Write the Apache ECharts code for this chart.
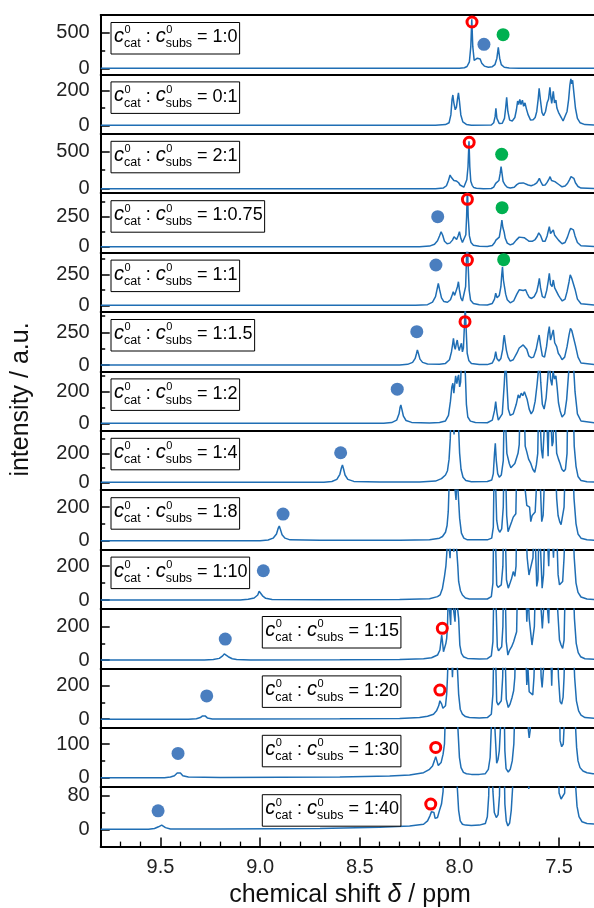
<!DOCTYPE html>
<html><head><meta charset="utf-8">
<script src="https://cdn.jsdelivr.net/npm/echarts@6/dist/echarts.min.js"></script>
<style>html,body{margin:0;padding:0;background:#fff}#c{width:594px;height:908px}</style>
</head><body><div id="c"></div>
<script>
// ---------------- data ----------------
const ratios = ['1:0','0:1','2:1','1:0.75','1:1','1:1.5','1:2','1:4','1:8','1:10','1:15','1:20','1:30','1:40'];
const yTopLabel = [500,200,500,250,250,250,200,200,200,200,200,200,100,80];
const yMinorTicks = [[250],[100],[250],[125,375],[125,375],[125,375],[100,300],[100,300],[100],[100],[100],[100],[50],[40]];
const yLow  = [-85,-49,-61,-49,-54,-49,-47,-55,-53,-53,-50,-51,-28,-41];
const yHigh = [740,294,742,446,425,405,328,356,300,298,306,303,148,100];
const xTickLabels = [7.5, 8.0, 8.5, 9.0, 9.5];
const xMinorTicks = [7.4,7.6,7.7,7.8,7.9,8.1,8.2,8.3,8.4,8.6,8.7,8.8,8.9,9.1,9.2,9.3,9.4,9.6,9.7];

const spec1 = [[9.80,0],[8.10,0],[8.00,2],[7.975,8],[7.962,25],[7.950,90],[7.943,300],[7.938,680],[7.933,300],[7.926,110],[7.918,100],[7.910,140],[7.903,162],[7.896,130],[7.888,70],[7.875,30],[7.855,15],[7.835,22],[7.822,50],[7.812,140],[7.805,290],[7.798,140],[7.790,50],[7.775,15],[7.75,4],[7.70,0],[7.30,0]];
const spec2 = [[9.80,0],[8.12,0],[8.07,4],[8.052,15],[8.043,60],[8.037,150],[8.033,175],[8.028,130],[8.021,90],[8.015,105],[8.010,150],[8.005,188],[8.000,140],[7.993,60],[7.983,20],[7.965,5],[7.94,0],[7.84,2],[7.828,15],[7.821,50],[7.817,98],[7.812,40],[7.800,10],[7.785,12],[7.774,40],[7.768,100],[7.763,162],[7.757,80],[7.748,30],[7.735,25],[7.722,45],[7.714,90],[7.708,140],[7.703,120],[7.697,150],[7.691,120],[7.684,145],[7.678,110],[7.671,130],[7.664,95],[7.655,60],[7.643,30],[7.630,32],[7.620,45],[7.612,80],[7.605,150],[7.600,214],[7.594,150],[7.586,75],[7.578,55],[7.568,80],[7.560,130],[7.553,150],[7.546,219],[7.541,160],[7.537,127],[7.532,170],[7.529,196],[7.523,130],[7.516,145],[7.511,100],[7.503,75],[7.496,80],[7.489,45],[7.480,25],[7.470,35],[7.460,80],[7.452,150],[7.446,230],[7.441,268],[7.436,240],[7.432,260],[7.426,190],[7.418,100],[7.408,40],[7.395,15],[7.37,4],[7.30,0]];
const spec3 = [[9.80,0],[8.12,0],[8.08,10],[8.065,40],[8.055,110],[8.047,185],[8.040,150],[8.034,140],[8.028,110],[8.022,95],[8.016,105],[8.011,117],[8.004,80],[7.997,50],[7.989,27],[7.978,20],[7.970,40],[7.963,120],[7.957,297],[7.952,640],[7.948,297],[7.943,100],[7.936,45],[7.928,15],[7.915,5],[7.88,0],[7.84,3],[7.828,20],[7.818,72],[7.810,60],[7.802,110],[7.796,200],[7.791,297],[7.786,200],[7.781,100],[7.777,95],[7.771,50],[7.760,20],[7.745,10],[7.725,20],[7.712,55],[7.700,75],[7.690,80],[7.680,78],[7.670,70],[7.655,50],[7.640,40],[7.625,55],[7.612,80],[7.605,110],[7.599,140],[7.592,95],[7.582,45],[7.570,50],[7.560,85],[7.551,130],[7.545,162],[7.538,110],[7.529,117],[7.521,95],[7.512,100],[7.503,60],[7.495,40],[7.485,25],[7.470,35],[7.458,70],[7.448,120],[7.440,162],[7.433,150],[7.426,140],[7.418,80],[7.405,30],[7.39,8],[7.30,0]];
const spec4 = [[9.80,0],[8.20,0],[8.15,5],[8.125,20],[8.110,50],[8.100,90],[8.092,125],[8.084,95],[8.075,45],[8.062,25],[8.048,30],[8.035,55],[8.027,83],[8.020,70],[8.014,60],[8.007,90],[8.000,125],[7.993,70],[7.985,35],[7.975,40],[7.968,100],[7.964,250],[7.960,520],[7.956,250],[7.950,90],[7.942,35],[7.930,12],[7.90,4],[7.86,2],[7.835,10],[7.823,35],[7.817,55],[7.810,40],[7.800,80],[7.792,160],[7.787,222],[7.782,160],[7.776,125],[7.770,70],[7.760,30],[7.745,15],[7.730,25],[7.715,55],[7.700,80],[7.690,83],[7.675,75],[7.662,60],[7.650,45],[7.635,45],[7.620,60],[7.610,85],[7.602,115],[7.598,125],[7.592,90],[7.582,45],[7.570,45],[7.560,90],[7.553,140],[7.549,167],[7.543,110],[7.536,100],[7.529,139],[7.522,95],[7.512,90],[7.503,55],[7.495,45],[7.485,25],[7.470,35],[7.458,80],[7.448,130],[7.442,153],[7.436,145],[7.428,140],[7.420,90],[7.408,35],[7.39,8],[7.30,0]];
const spec5 = [[9.80,0],[8.22,0],[8.16,5],[8.135,25],[8.120,70],[8.112,130],[8.106,177],[8.100,130],[8.090,60],[8.078,30],[8.060,25],[8.045,45],[8.035,90],[8.031,110],[8.024,80],[8.018,95],[8.010,150],[8.005,190],[8.000,124],[7.993,60],[7.985,35],[7.976,50],[7.969,150],[7.965,350],[7.961,600],[7.957,350],[7.951,120],[7.944,40],[7.930,15],[7.90,4],[7.86,3],[7.835,15],[7.824,50],[7.818,97],[7.811,60],[7.800,80],[7.792,150],[7.788,240],[7.784,311],[7.779,200],[7.774,150],[7.768,90],[7.760,45],[7.745,20],[7.728,35],[7.712,90],[7.700,125],[7.690,129],[7.680,120],[7.668,125],[7.660,95],[7.650,65],[7.638,55],[7.625,70],[7.612,110],[7.604,170],[7.599,218],[7.593,140],[7.584,70],[7.572,60],[7.562,120],[7.554,200],[7.549,258],[7.543,170],[7.535,150],[7.529,204],[7.522,140],[7.513,130],[7.503,80],[7.495,60],[7.484,35],[7.470,50],[7.460,110],[7.450,190],[7.444,245],[7.437,220],[7.430,210],[7.420,130],[7.408,50],[7.39,12],[7.30,0]];
const spec6 = [[9.80,0],[8.30,0],[8.26,5],[8.235,20],[8.222,50],[8.215,90],[8.211,115],[8.206,90],[8.198,45],[8.185,20],[8.16,8],[8.10,5],[8.07,12],[8.050,40],[8.040,100],[8.033,170],[8.030,204],[8.025,140],[8.021,120],[8.016,160],[8.011,191],[8.006,140],[8.001,110],[7.996,140],[7.990,166],[7.985,100],[7.980,130],[7.975,300],[7.971,450],[7.967,300],[7.961,90],[7.953,35],[7.940,12],[7.90,4],[7.86,3],[7.835,15],[7.824,50],[7.818,102],[7.812,50],[7.802,30],[7.792,50],[7.783,120],[7.778,200],[7.775,229],[7.770,170],[7.764,110],[7.756,60],[7.745,30],[7.730,40],[7.712,90],[7.700,130],[7.690,145],[7.680,153],[7.670,140],[7.662,120],[7.652,70],[7.640,55],[7.628,60],[7.615,120],[7.606,190],[7.600,229],[7.593,150],[7.584,70],[7.573,60],[7.563,140],[7.555,240],[7.549,293],[7.543,190],[7.536,200],[7.529,268],[7.522,170],[7.512,140],[7.504,90],[7.495,70],[7.485,40],[7.472,60],[7.460,140],[7.450,230],[7.443,280],[7.436,262],[7.428,250],[7.418,150],[7.405,60],[7.39,15],[7.30,0]];
const spec7 = [[9.80,0],[8.38,0],[8.34,5],[8.315,20],[8.303,60],[8.298,100],[8.294,116],[8.289,90],[8.281,45],[8.268,18],[8.24,6],[8.15,3],[8.10,5],[8.07,15],[8.055,50],[8.045,140],[8.038,230],[8.033,253],[8.028,190],[8.024,200],[8.019,300],[8.013,250],[8.008,290],[8.004,306],[7.999,230],[7.994,260],[7.990,400],[7.984,420],[7.979,400],[7.975,420],[7.970,300],[7.965,120],[7.958,40],[7.945,14],[7.92,5],[7.86,4],[7.835,20],[7.824,80],[7.818,137],[7.812,70],[7.805,20],[7.795,20],[7.785,60],[7.775,250],[7.768,420],[7.762,250],[7.755,90],[7.745,50],[7.730,60],[7.715,120],[7.705,180],[7.698,160],[7.690,190],[7.682,175],[7.674,200],[7.668,211],[7.660,150],[7.650,90],[7.640,60],[7.630,80],[7.620,140],[7.610,250],[7.604,330],[7.599,420],[7.592,260],[7.584,120],[7.575,90],[7.565,160],[7.556,300],[7.549,420],[7.543,280],[7.536,240],[7.530,330],[7.523,280],[7.516,300],[7.510,230],[7.503,130],[7.495,80],[7.485,40],[7.472,60],[7.462,150],[7.452,320],[7.444,420],[7.437,400],[7.430,420],[7.420,200],[7.408,60],[7.39,15],[7.30,0]];
const spec8 = [[9.80,0],[8.68,0],[8.64,5],[8.615,20],[8.600,55],[8.592,100],[8.587,119],[8.582,95],[8.574,50],[8.560,20],[8.53,6],[8.40,2],[8.20,2],[8.12,8],[8.09,25],[8.070,50],[8.060,80],[8.052,160],[8.046,300],[8.040,600],[8.032,600],[8.027,330],[8.022,600],[8.012,600],[8.005,400],[7.999,200],[7.992,90],[7.982,35],[7.968,12],[7.94,4],[7.86,5],[7.838,15],[7.830,60],[7.824,200],[7.820,269],[7.815,150],[7.808,60],[7.800,35],[7.790,50],[7.780,150],[7.774,600],[7.768,600],[7.762,200],[7.757,211],[7.750,130],[7.742,100],[7.732,110],[7.722,130],[7.713,134],[7.706,200],[7.700,260],[7.695,600],[7.676,600],[7.670,250],[7.662,210],[7.653,160],[7.642,130],[7.632,90],[7.622,69],[7.614,120],[7.607,200],[7.602,600],[7.594,600],[7.588,220],[7.582,165],[7.575,170],[7.566,600],[7.560,600],[7.555,180],[7.548,600],[7.543,600],[7.535,250],[7.530,280],[7.524,600],[7.518,600],[7.512,200],[7.503,160],[7.495,130],[7.486,90],[7.476,75],[7.468,90],[7.460,200],[7.456,600],[7.430,600],[7.424,250],[7.415,110],[7.405,40],[7.390,12],[7.36,4],[7.30,0]];
const spec9 = [[9.80,0],[9.00,0],[8.96,4],[8.935,15],[8.918,40],[8.909,75],[8.904,87],[8.899,70],[8.890,35],[8.875,15],[8.85,5],[8.70,2],[8.30,2],[8.15,5],[8.10,15],[8.085,25],[8.070,50],[8.062,90],[8.056,174],[8.050,400],[8.030,400],[8.020,400],[8.017,242],[8.012,400],[8.004,400],[7.999,134],[7.990,45],[7.978,15],[7.96,5],[7.86,5],[7.838,15],[7.830,80],[7.825,500],[7.820,400],[7.813,120],[7.806,70],[7.798,50],[7.788,70],[7.780,200],[7.776,500],[7.768,400],[7.763,150],[7.756,53],[7.748,80],[7.738,113],[7.730,140],[7.722,150],[7.717,160],[7.713,400],[7.700,500],[7.690,400],[7.680,500],[7.670,300],[7.662,210],[7.656,220],[7.648,200],[7.642,113],[7.635,150],[7.628,160],[7.620,170],[7.610,400],[7.600,500],[7.593,300],[7.587,113],[7.580,150],[7.572,400],[7.560,500],[7.550,400],[7.540,500],[7.528,400],[7.520,500],[7.512,250],[7.505,150],[7.497,113],[7.490,95],[7.482,100],[7.475,200],[7.468,500],[7.432,500],[7.425,250],[7.415,100],[7.405,40],[7.39,15],[7.36,5],[7.30,0]];
const spec10 = [[9.80,0],[9.10,0],[9.06,4],[9.030,12],[9.012,30],[9.005,52],[9.001,59],[8.996,50],[8.988,25],[8.972,10],[8.94,3],[8.70,2],[8.30,3],[8.15,8],[8.11,20],[8.097,30],[8.085,70],[8.075,140],[8.068,200],[8.064,266],[8.058,400],[8.050,400],[8.047,247],[8.042,400],[8.034,400],[8.028,286],[8.020,400],[8.012,400],[8.008,200],[8.004,110],[7.995,55],[7.985,30],[7.970,12],[7.95,6],[7.86,6],[7.840,20],[7.832,100],[7.827,500],[7.820,400],[7.813,89],[7.806,75],[7.800,70],[7.790,90],[7.782,200],[7.777,500],[7.770,400],[7.764,120],[7.755,70],[7.746,100],[7.738,128],[7.730,168],[7.722,140],[7.716,200],[7.712,500],[7.690,500],[7.680,400],[7.670,500],[7.660,250],[7.651,148],[7.645,180],[7.638,170],[7.631,250],[7.625,500],[7.618,300],[7.612,80],[7.606,120],[7.600,500],[7.593,300],[7.585,70],[7.578,150],[7.570,500],[7.560,400],[7.552,200],[7.545,500],[7.535,400],[7.528,250],[7.520,500],[7.512,400],[7.505,150],[7.498,90],[7.490,85],[7.482,110],[7.475,250],[7.468,500],[7.432,500],[7.424,250],[7.415,100],[7.405,45],[7.39,18],[7.36,6],[7.30,0]];
const spec11 = [[9.80,0],[9.28,0],[9.235,3],[9.205,10],[9.188,25],[9.180,37],[9.175,40],[9.170,36],[9.160,20],[9.140,8],[9.118,3],[9.05,1],[8.60,2],[8.30,4],[8.18,8],[8.14,14],[8.11,30],[8.098,60],[8.092,120],[8.089,150],[8.085,110],[8.080,50],[8.075,60],[8.068,100],[8.064,130],[8.060,200],[8.056,400],[8.048,400],[8.044,210],[8.040,400],[8.030,400],[8.022,230],[8.018,400],[8.010,400],[8.004,250],[7.998,90],[7.990,40],[7.980,20],[7.96,10],[7.90,6],[7.86,8],[7.840,25],[7.832,110],[7.826,500],[7.818,400],[7.810,80],[7.804,55],[7.796,50],[7.788,80],[7.782,200],[7.778,500],[7.770,400],[7.765,110],[7.757,30],[7.748,60],[7.738,80],[7.728,110],[7.718,150],[7.713,170],[7.708,500],[7.668,500],[7.662,230],[7.655,400],[7.650,250],[7.643,170],[7.636,90],[7.630,100],[7.624,200],[7.618,500],[7.596,500],[7.590,300],[7.584,190],[7.578,300],[7.572,500],[7.562,500],[7.552,220],[7.547,500],[7.533,500],[7.525,400],[7.517,500],[7.507,300],[7.498,120],[7.490,90],[7.482,70],[7.475,120],[7.468,500],[7.430,500],[7.423,250],[7.414,100],[7.404,45],[7.392,20],[7.37,8],[7.30,2]];
const spec12 = [[9.80,0],[9.36,0],[9.32,3],[9.300,10],[9.289,20],[9.282,26],[9.276,20],[9.265,8],[9.24,2],[9.10,1],[8.60,3],[8.30,5],[8.20,10],[8.16,18],[8.13,30],[8.115,50],[8.104,80],[8.098,110],[8.094,120],[8.089,90],[8.083,65],[8.077,55],[8.070,80],[8.064,150],[8.060,250],[8.056,400],[8.040,400],[8.035,250],[8.030,400],[8.016,400],[8.010,300],[8.004,150],[7.996,60],[7.985,30],[7.970,16],[7.95,10],[7.90,7],[7.86,10],[7.840,30],[7.832,150],[7.826,500],[7.819,400],[7.813,105],[7.806,85],[7.798,80],[7.790,110],[7.783,250],[7.779,500],[7.771,400],[7.765,120],[7.755,70],[7.746,90],[7.736,130],[7.728,170],[7.722,250],[7.718,500],[7.670,500],[7.662,204],[7.656,300],[7.650,164],[7.640,170],[7.632,145],[7.626,250],[7.620,500],[7.596,500],[7.590,250],[7.585,190],[7.578,300],[7.572,500],[7.544,500],[7.537,200],[7.530,500],[7.510,500],[7.503,250],[7.495,105],[7.487,90],[7.480,130],[7.475,250],[7.470,500],[7.430,500],[7.422,250],[7.413,110],[7.402,50],[7.390,25],[7.37,10],[7.30,3]];
const spec13 = [[9.80,0],[9.48,0],[9.45,2],[9.430,6],[9.416,14],[9.407,18],[9.400,14],[9.388,6],[9.36,2],[9.20,1],[8.60,2],[8.35,5],[8.25,8],[8.18,15],[8.150,25],[8.135,35],[8.126,50],[8.119,62],[8.113,50],[8.106,36],[8.101,33],[8.092,45],[8.082,70],[8.075,100],[8.070,200],[8.062,300],[8.014,300],[8.008,150],[8.000,60],[7.992,30],[7.980,16],[7.965,12],[7.94,10],[7.90,10],[7.87,12],[7.855,25],[7.846,60],[7.840,150],[7.835,300],[7.825,300],[7.818,100],[7.813,43],[7.806,55],[7.800,80],[7.794,150],[7.790,300],[7.778,300],[7.772,80],[7.766,27],[7.755,17],[7.745,25],[7.735,50],[7.727,100],[7.722,200],[7.718,300],[7.660,300],[7.654,140],[7.650,118],[7.645,140],[7.638,300],[7.585,300],[7.580,160],[7.575,300],[7.500,300],[7.495,110],[7.487,92],[7.479,100],[7.474,160],[7.470,300],[7.425,300],[7.420,180],[7.412,90],[7.405,50],[7.395,30],[7.380,20],[7.360,15],[7.33,12],[7.30,10]];
const spec14 = [[9.80,0],[9.56,0],[9.53,2],[9.510,6],[9.500,9],[9.494,10],[9.488,8],[9.475,4],[9.45,1],[9.20,1],[8.70,2],[8.40,5],[8.25,8],[8.18,12],[8.160,20],[8.148,32],[8.140,42],[8.134,46],[8.128,40],[8.122,26],[8.118,22],[8.110,28],[8.100,45],[8.090,60],[8.082,90],[8.077,200],[8.020,200],[8.012,110],[8.004,45],[7.996,20],[7.985,12],[7.970,10],[7.94,9],[7.90,10],[7.87,14],[7.860,30],[7.853,80],[7.849,200],[7.838,200],[7.832,90],[7.825,40],[7.815,28],[7.806,35],[7.799,80],[7.795,200],[7.777,200],[7.772,60],[7.765,20],[7.757,8],[7.748,15],[7.740,45],[7.733,100],[7.729,200],[7.660,200],[7.652,96],[7.646,94],[7.642,200],[7.505,200],[7.500,86],[7.490,72],[7.480,72],[7.472,86],[7.468,200],[7.424,200],[7.418,110],[7.410,55],[7.400,30],[7.385,18],[7.36,14],[7.30,12]];
const spectra = [spec1,spec2,spec3,spec4,spec5,spec6,spec7,spec8,spec9,spec10,spec11,spec12,spec13,spec14];

// markers: [panel index, ppm, intensity]
const blueDots = [[0,7.877,333],[3,8.109,250],[4,8.118,325],[5,8.214,255],[6,8.312,216],[7,8.596,204],[8,8.885,158],[9,8.984,173],[10,9.175,126],[11,9.268,139],[12,9.412,72],[13,9.512,44]];
const greenDots = [[0,7.781,467],[2,7.788,465],[3,7.786,325],[4,7.778,368]];
const redRings = [[0,7.937,643],[2,7.951,627],[3,7.960,395],[4,7.960,365],[5,7.972,331],[10,8.086,190],[11,8.098,174],[12,8.119,90],[13,8.144,60]];

// ---------------- layout ----------------
const FF = '"Liberation Sans", Arial, Helvetica, sans-serif';
const N = 14, TOP0 = 15, PH = 59.4, LEFT = 100.7, RIGHT_PX = 594, PXPPM = 199.3;
const XMAX = 9.8, XMIN = XMAX - (RIGHT_PX - LEFT) / PXPPM;
const LINE = '#1f6eb4';
const BLACK = '#000';

const grids = [], xAxes = [], yAxes = [], series = [];
for (let i = 0; i < N; i++) {
  const last = i === N - 1;
  grids.push({left: LEFT, top: TOP0 + PH * i, width: RIGHT_PX - LEFT - 0.01, height: PH, show: false});
  const xi = xAxes.length;
  xAxes.push({gridIndex: i, type: 'value', position: 'bottom', inverse: true, min: XMIN, max: XMAX,
    axisLine: {show: true, onZero: false, lineStyle: {color: BLACK, width: 2}}, splitLine: {show: false},
    axisTick: {show: last, inside: true, length: 9, lineStyle: {color: BLACK, width: 1.5}, customValues: xTickLabels},
    axisLabel: {show: last, fontSize: 20, fontFamily: FF, color: '#222', margin: 11, customValues: xTickLabels,
      formatter: v => v.toFixed(1)}
  });
  if (last) {
    xAxes.push({gridIndex: i, type: 'value', position: 'bottom', inverse: true, min: XMIN, max: XMAX,
      axisLine: {show: false, onZero: false}, splitLine: {show: false},
      axisTick: {show: true, inside: true, length: 5, lineStyle: {color: BLACK, width: 1.3}, customValues: xMinorTicks},
      axisLabel: {show: false}});
  }
  if (i === 0) {
    xAxes.push({gridIndex: i, type: 'value', position: 'top', inverse: true, min: XMIN, max: XMAX,
      axisLine: {show: true, onZero: false, lineStyle: {color: BLACK, width: 2}}, splitLine: {show: false},
      axisTick: {show: false}, axisLabel: {show: false}});
  }
  const yi = yAxes.length;
  yAxes.push({gridIndex: i, type: 'value', position: 'left', min: yLow[i], max: yHigh[i],
    axisLine: {show: true, onZero: false, lineStyle: {color: BLACK, width: 2}}, splitLine: {show: false},
    axisTick: {show: true, inside: true, length: 9, lineStyle: {color: BLACK, width: 1.5}, customValues: [0, yTopLabel[i]]},
    axisLabel: {show: true, fontSize: 20, fontFamily: FF, color: '#222', margin: 11, customValues: [0, yTopLabel[i]]}
  });
  yAxes.push({gridIndex: i, type: 'value', position: 'left', min: yLow[i], max: yHigh[i],
    axisLine: {show: false, onZero: false}, splitLine: {show: false},
    axisTick: {show: true, inside: true, length: 4.5, lineStyle: {color: BLACK, width: 1.5}, customValues: yMinorTicks[i]},
    axisLabel: {show: false}
  });
  series.push({type: 'line', xAxisIndex: xi, yAxisIndex: yi, data: spectra[i], symbol: 'none',
    lineStyle: {color: LINE, width: 1.5}, clip: true, z: 2, silent: true});
  const b = blueDots.filter(d => d[0] === i).map(d => [d[1], d[2]]);
  const g = greenDots.filter(d => d[0] === i).map(d => [d[1], d[2]]);
  const r = redRings.filter(d => d[0] === i).map(d => [d[1], d[2]]);
  if (b.length) series.push({type: 'scatter', xAxisIndex: xi, yAxisIndex: yi, data: b, symbol: 'circle', symbolSize: 13,
    itemStyle: {color: '#4a7ebf', opacity: 1}, z: 4, silent: true});
  if (g.length) series.push({type: 'scatter', xAxisIndex: xi, yAxisIndex: yi, data: g, symbol: 'circle', symbolSize: 13,
    itemStyle: {color: '#00b050', opacity: 1}, z: 4, silent: true});
  if (r.length) series.push({type: 'scatter', xAxisIndex: xi, yAxisIndex: yi, data: r, symbol: 'circle', symbolSize: 10,
    itemStyle: {color: 'rgba(255,255,255,0)', borderColor: '#ff0000', borderWidth: 3, opacity: 1}, z: 5, silent: true});
}

// ---------------- text boxes ----------------
const mctx = document.createElement('canvas').getContext('2d');
function tw(font, s) { mctx.font = font; return mctx.measureText(s).width; }
const fMain = '18px ' + FF, fIt = 'italic 20px ' + FF, fSup = '11px ' + FF, fSub = '12.5px ' + FF;
function txt(s, font, size, x, baseline) {
  const y = baseline - 0.35 * size;
  return {type: 'text', silent: true, style: {text: s, x: x, y: y, font: font, fill: '#000',
    align: 'left', verticalAlign: 'middle', textAlign: 'left', textVerticalAlign: 'middle'}};
}
const graphics = [];
for (let i = 0; i < N; i++) {
  const L = i < 10 ? 111 : 262.3;
  const top = TOP0 + PH * i + 7.5;
  const B = top + 21;
  const kids = [];
  let x = L + 3;
  kids.push(txt('c', fIt, 20, x, B)); x += tw(fIt, 'c');
  kids.push(txt('0', fSup, 11, x + 0.5, B - 9.3));
  kids.push(txt('cat', fSub, 12.5, x, B + 4.7));
  x += Math.max(tw(fSub, 'cat'), tw(fSup, '0') + 0.5);
  kids.push(txt(' : ', fMain, 18, x, B)); x += tw(fMain, ' : ');
  kids.push(txt('c', fIt, 20, x, B)); x += tw(fIt, 'c');
  kids.push(txt('0', fSup, 11, x + 0.5, B - 9.3));
  kids.push(txt('subs', fSub, 12.5, x, B + 4.7));
  x += Math.max(tw(fSub, 'subs'), tw(fSup, '0') + 0.5);
  const tail = ' = ' + ratios[i];
  kids.push(txt(tail, fMain, 18, x, B)); x += tw(fMain, tail);
  const W = x + 2 - L;
  graphics.push({type: 'rect', silent: true, z: 10, shape: {x: L, y: top, width: W, height: 31.5},
    style: {fill: '#fff', stroke: '#000', lineWidth: 1}});
  kids.forEach(k => { k.z = 11; graphics.push(k); });
}
// axis titles
graphics.push({type: 'text', silent: true, z: 11, x: 21, y: 399.5, rotation: Math.PI / 2,
  style: {text: 'intensity / a.u.', x: 0, y: 0, font: '25px ' + FF, fill: '#111',
    align: 'center', verticalAlign: 'middle', textAlign: 'center', textVerticalAlign: 'middle'}});
graphics.push({type: 'text', silent: true, z: 11,
  style: {text: '{a|chemical shift }{b|δ}{a| / ppm}', x: 350, y: 895.5,
    rich: {a: {font: '25px ' + FF, fill: '#111'}, b: {font: 'italic 25px ' + FF, fill: '#111'}},
    align: 'center', verticalAlign: 'middle', textAlign: 'center', textVerticalAlign: 'middle'}});

const chart = echarts.init(document.getElementById('c'), null, {renderer: 'canvas'});
chart.setOption({animation: false, backgroundColor: '#fff', grid: grids, xAxis: xAxes, yAxis: yAxes, series: series, graphic: graphics});
</script></body></html>
